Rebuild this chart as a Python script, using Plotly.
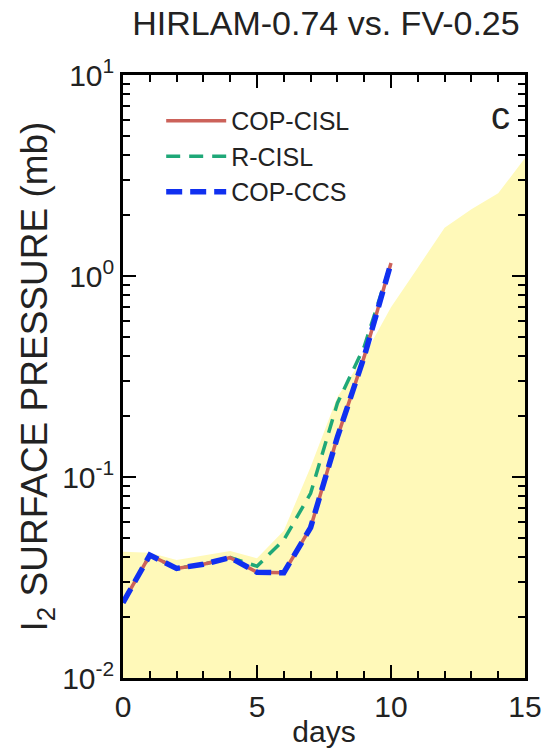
import plotly.graph_objects as go

# Forecast day for each sample
days = [0, 1, 2, 3, 4, 5, 6, 7, 8, 9, 10]
# I2 surface pressure (mb) for each advection scheme
cop_cisl = [0.0237, 0.0409, 0.0351, 0.0368, 0.0397, 0.0336, 0.0334, 0.0560, 0.158, 0.397, 1.16]
r_cisl = [0.0237, 0.0409, 0.0351, 0.0368, 0.0397, 0.0360, 0.0486, 0.083, 0.233, 0.445, 1.16]
cop_ccs = [0.0237, 0.0409, 0.0351, 0.0368, 0.0397, 0.0336, 0.0334, 0.0560, 0.158, 0.397, 1.16]

# Upper edge of the shaded reference envelope (days 0-15)
env_days = [0, 1, 2, 3, 4, 5, 6, 7, 8, 9, 10, 11, 12, 13, 14, 15]
env_upper = [0.0425, 0.0420, 0.0386, 0.0405, 0.0428, 0.0394, 0.054, 0.112, 0.25, 0.40,
             0.70, 1.10, 1.74, 2.15, 2.58, 3.86]
axis_floor = 0.01

# Axis ticks
x_ticks = [0, 5, 10, 15]
y_ticks = [0.01, 0.1, 1, 10]
y_tick_text = ["10<sup>-2</sup>", "10<sup>-1</sup>", "10<sup>0</sup>", "10<sup>1</sup>"]

FONT = "Liberation Sans, Arial, sans-serif"
INK = "#222222"

fig = go.Figure()

# shaded envelope, filled down to the bottom of the axis
fig.add_trace(go.Scatter(x=env_days, y=[axis_floor] * len(env_days), mode="lines",
                         line=dict(width=0, color="rgba(0,0,0,0)"),
                         showlegend=False, hoverinfo="skip"))
fig.add_trace(go.Scatter(x=env_days, y=env_upper, mode="lines", fill="tonexty",
                         fillcolor="#FFF9B9", line=dict(width=0, color="#FFF9B9"),
                         showlegend=False, hoverinfo="skip"))

fig.add_trace(go.Scatter(x=days, y=r_cisl, mode="lines", name="R-CISL", legendrank=2,
                         line=dict(color="#1FA878", width=3.5, dash="14px,9px")))
fig.add_trace(go.Scatter(x=days, y=cop_cisl, mode="lines", name="COP-CISL", legendrank=1,
                         line=dict(color="#CC625A", width=3.5)))
fig.add_trace(go.Scatter(x=days, y=cop_ccs, mode="lines", name="COP-CCS", legendrank=3,
                         line=dict(color="#1030F0", width=5.5, dash="16px,8px")))

fig.update_layout(
    width=543, height=748,
    margin=dict(l=123, r=18, t=75, b=70),
    paper_bgcolor="white", plot_bgcolor="white",
    font=dict(family=FONT, color=INK),
    title=dict(text="HIRLAM-0.74 vs. FV-0.25", x=0.505, xref="paper", xanchor="center",
               y=1 - 23 / 748, yref="container", yanchor="middle",
               font=dict(size=34, family=FONT, color=INK)),
    legend=dict(x=0.095, y=0.962, xanchor="left", yanchor="top", traceorder="normal",
                bgcolor="rgba(0,0,0,0)", font=dict(size=25, family=FONT, color=INK),
                itemwidth=60, tracegroupgap=0),
    showlegend=True,
)

fig.update_xaxes(
    range=[0, 15], tickvals=x_ticks, ticktext=[str(v) for v in x_ticks],
    ticks="inside", ticklen=13, tickwidth=2, tickcolor="black",
    showline=True, linewidth=2.5, linecolor="black", mirror="ticks",
    showgrid=False, zeroline=False, automargin=False,
    minor=dict(ticks="inside", ticklen=7, tickwidth=1.5, tickcolor="black", dtick=1, showgrid=False),
    tickfont=dict(size=30, family=FONT, color=INK),
    title=dict(text="days", font=dict(size=30, family=FONT, color=INK), standoff=1),
)

fig.update_yaxes(
    type="log", range=[-2, 1], tickvals=y_ticks, ticktext=y_tick_text,
    ticks="inside", ticklen=13, tickwidth=2, tickcolor="black",
    showline=True, linewidth=2.5, linecolor="black", mirror="ticks",
    showgrid=False, zeroline=False, automargin=False,
    minor=dict(ticks="inside", ticklen=7, tickwidth=1.5, tickcolor="black", dtick="D1", showgrid=False),
    tickfont=dict(size=30, family=FONT, color=INK),
    title=dict(text="I<sub>2</sub> SURFACE PRESSURE (mb)",
               font=dict(size=37, family=FONT, color=INK), standoff=4),
)

fig.add_annotation(text="c", x=0.94, y=0.932, xref="paper", yref="paper",
                   xanchor="center", yanchor="middle", showarrow=False,
                   font=dict(size=38, family=FONT, color=INK))

fig.write_html("out.html")
